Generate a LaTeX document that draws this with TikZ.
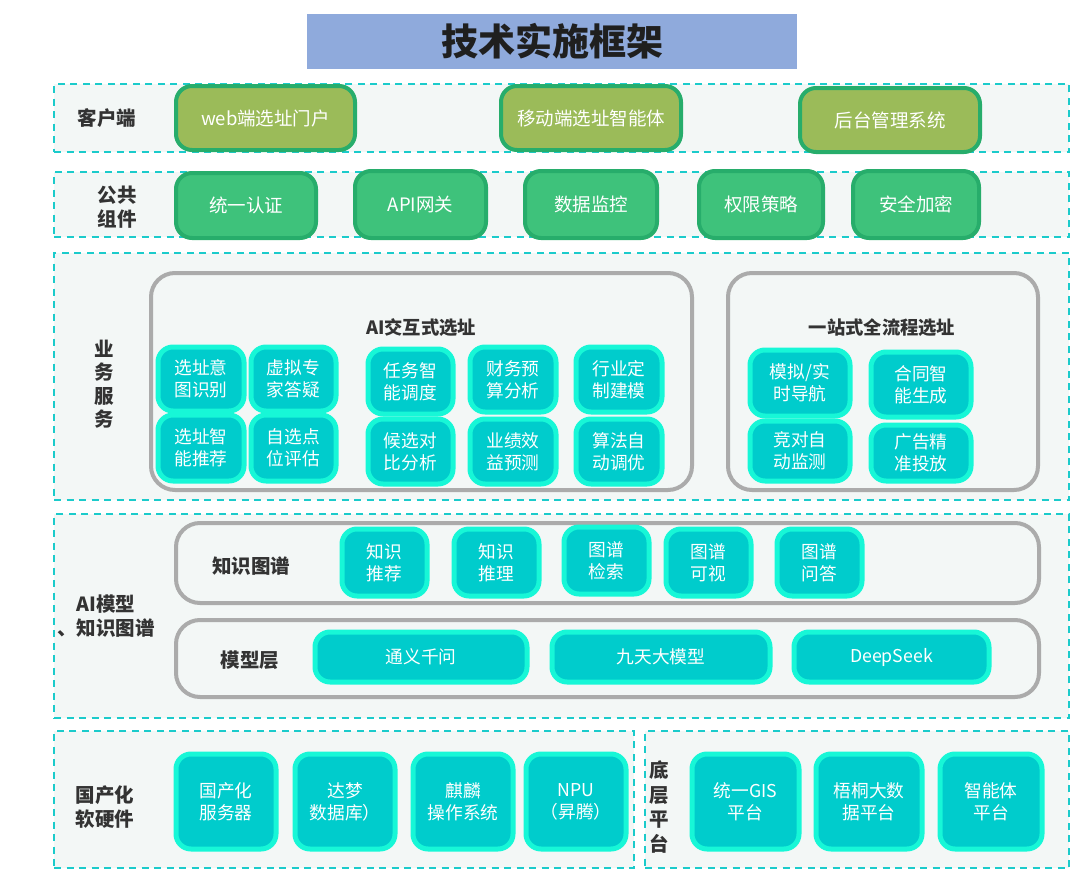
\documentclass[tikz,border=0pt]{standalone}
\usepackage{fontspec}
\setmainfont{Noto Sans CJK SC}
\definecolor{titlebg}{HTML}{8FAADC}
\definecolor{secbg}{HTML}{F3F7F6}
\definecolor{dashc}{HTML}{1BCBCB}
\definecolor{grayb}{HTML}{ABABAB}
\definecolor{olivef}{HTML}{9BBB59}
\definecolor{greenb}{HTML}{27AD6B}
\definecolor{greenf}{HTML}{3EC27B}
\definecolor{cyanf}{HTML}{00CCCC}
\definecolor{aquab}{HTML}{17F7D7}
\definecolor{labc}{HTML}{333333}
\newcommand\bx[7]{\node[#6, minimum width={#4-#2}, minimum height={#5-#3}] (#1) at ({(#2+#4)/2},{(#3+#5)/2}) {#7};}
\begin{document}
\begin{tikzpicture}[x=1pt,y=-1pt,
  sect/.style={draw=dashc, line width=2.8pt, dash pattern=on 7pt off 5.5pt, fill=secbg, inner sep=0pt},
  grp/.style={draw=grayb, line width=4pt, rounded corners=24pt, fill=secbg, inner sep=0pt},
  olivebox/.style={draw=greenb, line width=4pt, rounded corners=16pt, fill=olivef, text=white, inner sep=0pt, align=center, font=\fontsize{18.5}{22}\selectfont},
  greenbox/.style={draw=greenb, line width=4pt, rounded corners=16pt, fill=greenf, text=white, inner sep=0pt, align=center, font=\fontsize{18.5}{22}\selectfont},
  cybox/.style={draw=aquab, line width=5pt, rounded corners=15pt, fill=cyanf, text=white, inner sep=0pt, align=center, font=\fontsize{17.7}{22}\selectfont},
  lab/.style={text=labc, font=\fontsize{19.5}{24}\selectfont\bfseries, align=center, inner sep=0pt},
  ttl/.style={text=labc, font=\fontsize{18.3}{22}\selectfont\bfseries, inner sep=0pt}
]
\useasboundingbox (0,0) rectangle (1082,886);
% title
\bx{title}{307}{14}{797}{69}{fill=titlebg, inner sep=0pt, text=black!88, font=\fontsize{37}{42}\selectfont\bfseries}{技术实施框架}
% client row
\bx{secclient}{54}{84}{1069}{152}{sect}{}
\node[lab] (lclient) at (107,118) {客户端};
\bx{web}{176}{86}{355}{150}{olivebox}{web端选址门户}
\bx{mobile}{501}{86}{681}{150}{olivebox}{移动端选址智能体}
\bx{backend}{800}{88}{980}{152}{olivebox}{后台管理系统}
% public components
\bx{secpub}{54}{172}{1069}{237}{sect}{}
\node[lab] (lpub) at (117,207) {公共\\组件};
\bx{auth}{176}{173}{316}{238}{greenbox}{统一认证}
\bx{api}{355}{171}{486}{238}{greenbox}{API网关}
\bx{monitor}{525}{171}{657}{238}{greenbox}{数据监控}
\bx{perm}{699}{171}{823}{238}{greenbox}{权限策略}
\bx{secure}{853}{171}{979}{238}{greenbox}{安全加密}
% business services
\bx{secbiz}{54}{253}{1069}{500}{sect}{}
\node[lab, font=\fontsize{19.5}{23.5}\selectfont\bfseries] (lbiz) at (104,384) {业\\务\\服\\务};
\bx{gai}{151}{273}{692}{490}{grp}{}
\node[ttl] (tai) at (421,328) {AI交互式选址};
\bx{b11}{158}{347}{244}{411}{cybox}{选址意\\图识别}
\bx{b12}{251}{347}{336}{411}{cybox}{虚拟专\\家答疑}
\bx{b13}{368}{349}{453}{414}{cybox}{任务智\\能调度}
\bx{b14}{470}{347}{556}{412}{cybox}{财务预\\算分析}
\bx{b15}{576}{347}{662}{412}{cybox}{行业定\\制建模}
\bx{b21}{158}{415}{244}{481}{cybox}{选址智\\能推荐}
\bx{b22}{251}{415}{336}{481}{cybox}{自选点\\位评估}
\bx{b23}{368}{419}{453}{484}{cybox}{候选对\\比分析}
\bx{b24}{470}{419}{556}{484}{cybox}{业绩效\\益预测}
\bx{b25}{576}{419}{662}{484}{cybox}{算法自\\动调优}
\bx{gone}{728}{273}{1038}{490}{grp}{}
\node[ttl] (tone) at (882,328) {一站式全流程选址};
\bx{o11}{750}{350}{850}{416}{cybox}{模拟/实\\时导航}
\bx{o12}{871}{352}{971}{417}{cybox}{合同智\\能生成}
\bx{o21}{750}{421}{850}{481}{cybox}{竞对自\\动监测}
\bx{o22}{871}{425}{971}{481}{cybox}{广告精\\准投放}
% AI models & knowledge graph
\bx{secai}{54}{514}{1069}{718}{sect}{}
\node[lab, font=\fontsize{19.5}{23.5}\selectfont\bfseries] (lai) at (106,616) {AI模型\\、知识图谱};
\bx{gkg}{176}{523}{1039}{603}{grp}{}
\node[lab] (lkg) at (251,566) {知识图谱};
\bx{k1}{342}{529}{427}{596}{cybox}{知识\\推荐}
\bx{k2}{454}{529}{539}{596}{cybox}{知识\\推理}
\bx{k3}{564}{527}{649}{594}{cybox}{图谱\\检索}
\bx{k4}{666}{529}{751}{596}{cybox}{图谱\\可视}
\bx{k5}{777}{529}{862}{596}{cybox}{图谱\\问答}
\bx{gmodel}{176}{620}{1039}{697}{grp}{}
\node[lab] (lmodel) at (250,660) {模型层};
\bx{m1}{315}{632}{527}{682}{cybox}{通义千问}
\bx{m2}{552}{632}{770}{682}{cybox}{九天大模型}
\bx{m3}{794}{632}{989}{682}{cybox}{DeepSeek}
% domestic hw/sw
\bx{sechw}{54}{731}{634}{868}{sect}{}
\node[lab] (lhw) at (105,807) {国产化\\软硬件};
\bx{h1}{176}{754}{276}{849}{cybox}{国产化\\服务器}
\bx{h2}{295}{754}{395}{849}{cybox}{达梦\\数据库）}
\bx{h3}{413}{754}{513}{849}{cybox}{麒麟\\操作系统}
\bx{h4}{526}{754}{626}{849}{cybox}{NPU\\（昇腾）}
% base platform
\bx{secbase}{645}{731}{1069}{868}{sect}{}
\node[lab, font=\fontsize{19.5}{24.5}\selectfont\bfseries] (lbase) at (659,807) {底\\层\\平\\台};
\bx{p1}{692}{754}{799}{849}{cybox}{统一GIS\\平台}
\bx{p2}{816}{754}{922}{849}{cybox}{梧桐大数\\据平台}
\bx{p3}{940}{754}{1042}{849}{cybox}{智能体\\平台}
\end{tikzpicture}
\end{document}
